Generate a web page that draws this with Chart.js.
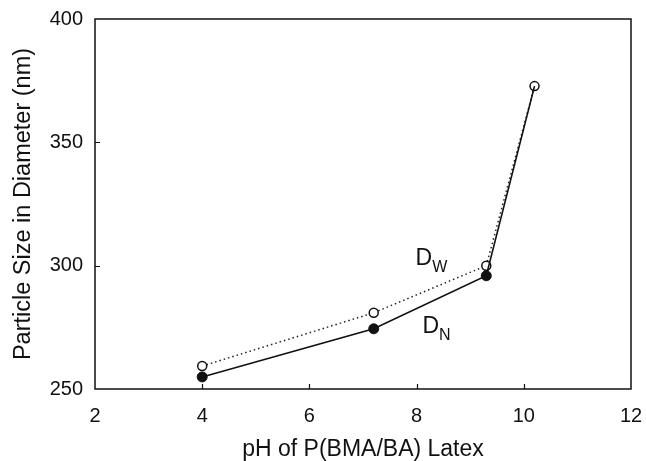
<!DOCTYPE html>
<html>
<head>
<meta charset="utf-8">
<script src="https://cdn.jsdelivr.net/npm/chart.js@4.4.1/dist/chart.umd.min.js"></script>
<style>
  html, body { margin: 0; padding: 0; background: #fff; }
  #wrap { width: 646px; height: 461px; }
</style>
</head>
<body>
<div id="wrap"><canvas id="myChart" width="646" height="461"></canvas></div>
<script>
// pH values and particle sizes
const phValues = [4.0, 7.2, 9.3, 10.2];
const dnValues = [254.9, 274.4, 295.9, 372.8];
const dwValues = [259.3, 280.9, 300.0, 372.8];
const xTicks = [2, 4, 6, 8, 10, 12];
const yTicks = [250, 300, 350, 400];

// where the curve labels sit, in data units
const dwLabelPos = { x: 7.98, y: 300.4 };
const dnLabelPos = { x: 8.11, y: 272.8 };

const FONT = "'Liberation Sans', Arial, Helvetica, sans-serif";

// frame, inward ticks and D_W / D_N labels
const framePlugin = {
  id: 'frame',
  afterDraw(chart) {
    const { ctx, chartArea: a, scales: { x, y } } = chart;
    ctx.save();
    ctx.strokeStyle = '#111';
    ctx.lineWidth = 1.5;
    ctx.strokeRect(a.left, a.top, a.right - a.left, a.bottom - a.top);
    ctx.lineWidth = 1.2;
    ctx.beginPath();
    xTicks.slice(1, -1).forEach(v => {
      const px = Math.round(x.getPixelForValue(v)) + 0.5;
      ctx.moveTo(px, a.bottom);
      ctx.lineTo(px, a.bottom - 5);
    });
    yTicks.slice(1, -1).forEach(v => {
      const py = Math.round(y.getPixelForValue(v)) + 0.5;
      ctx.moveTo(a.left, py);
      ctx.lineTo(a.left + 5, py);
    });
    ctx.stroke();

    // subscripted labels
    const drawSub = (pos, main, sub) => {
      const px = x.getPixelForValue(pos.x);
      const py = y.getPixelForValue(pos.y);
      ctx.fillStyle = '#111';
      ctx.textBaseline = 'alphabetic';
      ctx.font = '23px ' + FONT;
      ctx.fillText(main, px, py);
      const w = ctx.measureText(main).width;
      ctx.font = '16px ' + FONT;
      ctx.fillText(sub, px + w, py + 7);
    };
    drawSub(dwLabelPos, 'D', 'W');
    drawSub(dnLabelPos, 'D', 'N');
    ctx.restore();
  }
};

const ctx = document.getElementById('myChart').getContext('2d');
new Chart(ctx, {
  type: 'line',
  data: {
    labels: phValues,
    datasets: [
      {
        label: 'DN',
        data: phValues.map((p, i) => ({ x: p, y: dnValues[i] })),
        borderColor: '#111',
        borderWidth: 1.6,
        backgroundColor: '#111',
        pointBackgroundColor: '#111',
        pointBorderColor: '#111',
        pointRadius: [5, 5, 5, 0],
        pointBorderWidth: 1,
        fill: false,
        tension: 0
      },
      {
        label: 'DW',
        data: phValues.map((p, i) => ({ x: p, y: dwValues[i] })),
        borderColor: '#222',
        borderWidth: 1.5,
        borderDash: [1.5, 3],
        pointBackgroundColor: '#fff',
        pointBorderColor: '#111',
        pointRadius: 4.5,
        pointBorderWidth: 1.5,
        fill: false,
        tension: 0
      }
    ]
  },
  options: {
    responsive: false,
    animation: false,
    layout: { padding: { left: 0, top: 19, right: 15, bottom: 0 } },
    plugins: {
      legend: { display: false },
      tooltip: { enabled: false }
    },
    scales: {
      x: {
        type: 'linear',
        min: 2,
        max: 12,
        afterBuildTicks: s => { s.ticks = xTicks.map(v => ({ value: v })); },
        afterFit: s => { s.height = 72; s.paddingLeft = 0; s.paddingRight = 0; },
        grid: { display: false },
        border: { display: false },
        ticks: { padding: 7, color: '#111', font: { family: FONT, size: 20 } },
        title: {
          display: true,
          text: 'pH of P(BMA/BA) Latex',
          color: '#111',
          font: { family: FONT, size: 23, lineHeight: 1 },
          padding: { top: 0, bottom: 0 }
        }
      },
      y: {
        min: 250,
        max: 400,
        afterBuildTicks: s => { s.ticks = yTicks.map(v => ({ value: v })); },
        afterFit: s => { s.width = 95; s.paddingTop = 0; s.paddingBottom = 0; },
        grid: { display: false },
        border: { display: false },
        ticks: { padding: 4, color: '#111', font: { family: FONT, size: 20 } },
        title: {
          display: true,
          text: 'Particle Size in Diameter (nm)',
          color: '#111',
          font: { family: FONT, size: 23.5, lineHeight: 1 },
          padding: { top: 12, bottom: 0 }
        }
      }
    }
  },
  plugins: [framePlugin]
});
</script>
</body>
</html>
